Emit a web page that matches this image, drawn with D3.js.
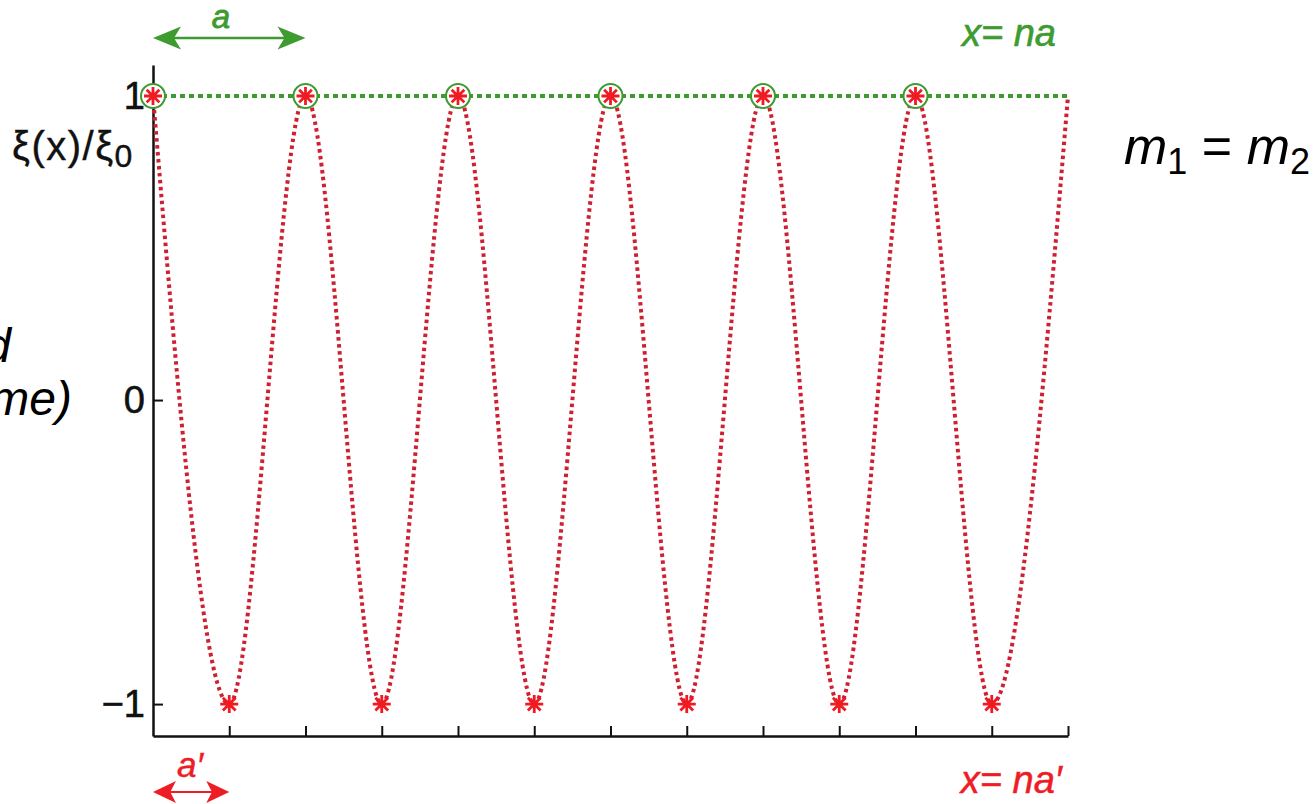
<!DOCTYPE html>
<html>
<head>
<meta charset="utf-8">
<script src="https://cdn.jsdelivr.net/npm/d3@7"></script>
<style>
  body { margin: 0; background: #fff; }
  svg { display: block; font-family: "Liberation Sans", Arial, Helvetica, sans-serif; }
</style>
</head>
<body>
<svg id="chart" width="1316" height="804"></svg>
<script>
// sites in units of a' (a = 2a'), displacement read at each site
const siteN = [0, 1, 2, 3, 4, 5, 6, 7, 8, 9, 10, 11, 12];
const siteXi = [1, -1, 1, -1, 1, -1, 1, -1, 1, -1, 1, -1, 1];
// red asterisks: every atom
const starN = [0, 1, 2, 3, 4, 5, 6, 7, 8, 9, 10, 11];
const starXi = [1, -1, 1, -1, 1, -1, 1, -1, 1, -1, 1, -1];
// green circles: lattice x = na
const circleN = [0, 2, 4, 6, 8, 10];
const circleXi = [1, 1, 1, 1, 1, 1];
const greenLineN = [0, 12];
const greenLineXi = [1, 1];
const xTickValues = [1, 2, 3, 4, 5, 6, 7, 8, 9, 10, 11, 12];
const yTickValues = [-1, 0, 1];
const yTickLabels = ["\u22121", "0", "1"];

const RED = "#d01f30";
const STAR = "#f01a22";
const GREEN = "#3d9b30";

const svg = d3.select("#chart");

const x = d3.scaleLinear().domain([0, 12]).range([153, 1068]);
const y = d3.scaleLinear().domain([-1.105, 1.102]).range([736, 65]);

// axes
const xAxis = d3.axisBottom(x)
  .tickValues(xTickValues)
  .tickSizeInner(-10)
  .tickSizeOuter(0)
  .tickFormat("");
const gx = svg.append("g")
  .attr("transform", "translate(0," + y.range()[0] + ")")
  .call(xAxis);

const yAxis = d3.axisLeft(y)
  .tickValues(yTickValues)
  .tickSizeInner(-10)
  .tickSizeOuter(0)
  .tickPadding(8)
  .tickFormat((d, i) => yTickLabels[i]);
const gy = svg.append("g")
  .attr("transform", "translate(" + x(0) + ",0)")
  .call(yAxis);

svg.selectAll(".domain").attr("stroke", "#111").attr("stroke-width", 2.5);
svg.selectAll(".tick line").attr("stroke", "#111").attr("stroke-width", 2);
gy.selectAll(".tick text")
  .attr("font-size", 38)
  .attr("fill", "#111")
  .attr("stroke", "#111")
  .attr("stroke-width", 0.6)
  .attr("font-family", "Liberation Sans, Arial, sans-serif");

// green lattice line
const straight = d3.line().x((d, i) => x(greenLineN[i])).y(d => y(d));
svg.append("path")
  .attr("d", straight(greenLineXi))
  .attr("fill", "none")
  .attr("stroke", GREEN)
  .attr("stroke-width", 3.8)
  .attr("stroke-dasharray", "5,4");

// red displacement curve
const wave = d3.line()
  .x((d, i) => x(siteN[i]))
  .y(d => y(d))
  .curve(d3.curveMonotoneX);
svg.append("path")
  .attr("d", wave(siteXi))
  .attr("fill", "none")
  .attr("stroke", RED)
  .attr("stroke-width", 4)
  .attr("stroke-dasharray", "3.5,3.5");

// green circles
svg.append("g").selectAll("circle")
  .data(circleXi)
  .join("circle")
  .attr("cx", (d, i) => x(circleN[i]))
  .attr("cy", d => y(d))
  .attr("r", 12)
  .attr("fill", "#fff")
  .attr("stroke", GREEN)
  .attr("stroke-width", 2);

// red asterisks
function asterisk(r) {
  let p = "";
  for (let k = 0; k < 4; k++) {
    const a = k * Math.PI / 4;
    const dx = r * Math.cos(a), dy = r * Math.sin(a);
    p += "M" + (-dx) + "," + (-dy) + "L" + dx + "," + dy;
  }
  return p;
}
svg.append("g").selectAll("path")
  .data(starXi)
  .join("path")
  .attr("transform", (d, i) => "translate(" + x(starN[i]) + "," + y(d) + ")")
  .attr("d", asterisk(9))
  .attr("stroke", STAR)
  .attr("stroke-width", 2.8)
  .attr("fill", "none");

// double arrows
function doubleArrow(x1, x2, yy, color, lineW, headL, headW) {
  const g = svg.append("g");
  g.append("line")
    .attr("x1", x1 + headL * 0.6).attr("x2", x2 - headL * 0.6)
    .attr("y1", yy).attr("y2", yy)
    .attr("stroke", color).attr("stroke-width", lineW);
  const notch = headL * 0.75;
  g.append("polygon")
    .attr("points", [[x1, yy], [x1 + headL, yy - headW], [x1 + notch, yy], [x1 + headL, yy + headW]].join(" "))
    .attr("fill", color);
  g.append("polygon")
    .attr("points", [[x2, yy], [x2 - headL, yy - headW], [x2 - notch, yy], [x2 - headL, yy + headW]].join(" "))
    .attr("fill", color);
}
doubleArrow(x(0), x(2), 38, GREEN, 2.5, 28, 11.5);
doubleArrow(x(0), x(1), 792, "#ee1c24", 2, 23, 11);

// labels
svg.append("text")
  .attr("x", 221).attr("y", 28)
  .attr("text-anchor", "middle")
  .attr("font-size", 33).attr("font-style", "italic")
  .attr("fill", GREEN).attr("stroke", GREEN).attr("stroke-width", 0.8)
  .text("a");

svg.append("text")
  .attr("x", 1056).attr("y", 46)
  .attr("text-anchor", "end")
  .attr("font-size", 38).attr("font-style", "italic")
  .attr("fill", GREEN).attr("stroke", GREEN).attr("stroke-width", 0.6)
  .text("x= na");

svg.append("text")
  .attr("x", 190).attr("y", 777)
  .attr("text-anchor", "middle")
  .attr("font-size", 35).attr("font-style", "italic")
  .attr("fill", "#ee1c24").attr("stroke", "#ee1c24").attr("stroke-width", 0.5)
  .text("a\u2032");

svg.append("text")
  .attr("x", 1062).attr("y", 793)
  .attr("text-anchor", "end")
  .attr("font-size", 38).attr("font-style", "italic")
  .attr("fill", "#ee1c24").attr("stroke", "#ee1c24").attr("stroke-width", 0.5)
  .text("x= na\u2032");

// y label
const yl = svg.append("text")
  .attr("x", 12).attr("y", 160)
  .attr("font-size", 40)
  .attr("letter-spacing", 1.5)
  .attr("fill", "#111")
  .attr("stroke", "#111").attr("stroke-width", 0.4);
yl.append("tspan").text("\u03be(x)/\u03be");
yl.append("tspan").attr("font-size", 32).attr("dy", 7).text("0");

// m1 = m2
const mt = svg.append("text")
  .attr("x", 1124).attr("y", 164)
  .attr("font-size", 52)
  .attr("fill", "#000");
mt.append("tspan").attr("font-style", "italic").text("m");
mt.append("tspan").attr("font-size", 36).attr("dy", 10).text("1");
mt.append("tspan").attr("dy", -10).text(" = ");
mt.append("tspan").attr("font-style", "italic").text("m");
mt.append("tspan").attr("font-size", 36).attr("dy", 10).text("2");

// slide text cut off at the left edge
svg.append("text")
  .attr("x", 11).attr("y", 362)
  .attr("text-anchor", "end")
  .attr("font-size", 48).attr("font-style", "italic")
  .attr("fill", "#000")
  .text("d");
svg.append("text")
  .attr("x", 72).attr("y", 415)
  .attr("text-anchor", "end")
  .attr("font-size", 48).attr("font-style", "italic")
  .attr("fill", "#000")
  .text("me)");
</script>
</body>
</html>
